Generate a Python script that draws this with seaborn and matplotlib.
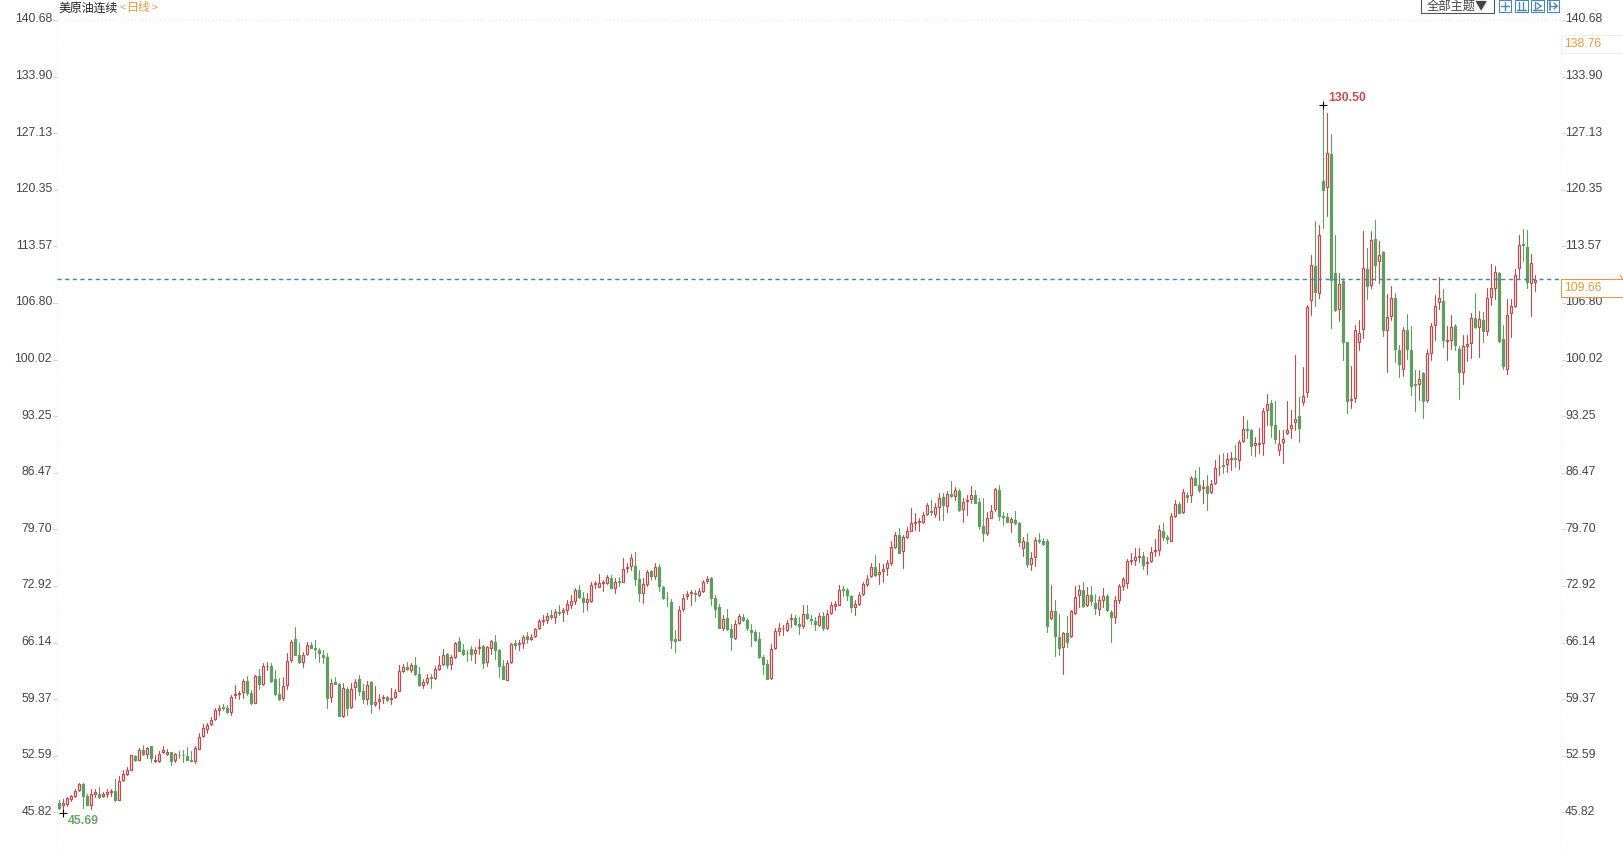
import numpy as np
import pandas as pd
import seaborn as sns
import matplotlib.pyplot as plt
from matplotlib.patches import Rectangle
from matplotlib.lines import Line2D

W, H = 1623, 849

# R = up day (hollow), G = down day (filled)
directions = (
    "GRRRRRGGRR" "GRRRGRRRRG" "RGRGRRRRGR" "GGGGRRRRRR" "RGGRRRRGGR"
    "GRRGGGRRRG" "GRRGGGGGRG" "GRGRRGGRGR" "RRGRRRRGRG" "GRRGRRRGRR"
    "GGGGRRGRRG" "GGRRGRRGRR" "RRRGRGRRRR" "GGRRRRRRGR" "GRRRGGRRGR"
    "GGGGGRRRRG" "RRRGGGRGGR" "RGGGGGGGRR" "RRRRGGRGGG" "RGRRRRGGGR"
    "RRRRGRRRRR" "GRRRRRRRGR" "RGRGRGRRRG" "GGRRRGGGRG" "GRGRRGGGRG"
    "GRGRRRGRGG" "RRGGRRRRRR" "RGRRRRGGRR" "GRGRGGRGRR" "RGRRGRRGGR"
    "RRRGGRRRRR" "GRRRGRGRGG" "RGGRRRRGRG" "RGRRGGRGGG" "RGRRRRGRRG"
    "GRRRGRGRRR" "GGRRRRGGRR"
)

highs = [
    47.23, 47.43, 47.63, 47.87, 48.59, 49.35, 49.31, 47.95, 48.55, 48.63,
    48.83, 48.27, 48.63, 48.55, 49.83, 50.19, 50.91, 51.23, 52.71, 52.71,
    53.51, 53.91, 53.63, 53.79, 52.63, 53.15, 53.75, 53.43, 53.07, 52.95,
    53.11, 53.31, 53.63, 53.15, 53.71, 55.31, 56.35, 56.51, 57.23, 58.35,
    58.63, 58.83, 58.63, 59.83, 61.03, 60.35, 61.75, 62.15, 60.43, 62.23,
    63.03, 63.63, 63.75, 63.63, 62.91, 61.95, 62.03, 64.83, 66.43, 67.95,
    66.03, 64.95, 66.23, 66.23, 66.43, 65.43, 65.23, 64.83, 61.83, 62.03,
    61.31, 61.31, 60.83, 61.35, 61.83, 62.31, 61.23, 61.55, 61.51, 60.91,
    60.03, 59.83, 59.75, 60.71, 60.63, 63.43, 63.55, 63.83, 63.63, 64.35,
    63.21, 61.81, 62.41, 62.33, 63.33, 64.49, 65.41, 64.89, 64.69, 66.21,
    66.77, 66.01, 65.21, 65.69, 65.61, 66.61, 65.81, 65.73, 66.41, 67.01,
    65.41, 64.01, 64.01, 66.13, 66.49, 66.41, 67.01, 67.41, 67.21, 67.93,
    68.93, 69.41, 69.69, 70.01, 70.21, 70.61, 70.33, 71.21, 71.81, 72.61,
    73.01, 72.21, 72.09, 73.41, 73.49, 74.33, 73.61, 74.21, 74.21, 73.81,
    74.01, 76.29, 75.61, 76.69, 76.97, 74.81, 73.81, 74.81, 74.81, 75.61,
    75.49, 72.89, 72.21, 71.41, 67.61, 70.49, 71.93, 72.29, 72.41, 72.41,
    72.61, 73.61, 74.09, 74.01, 71.81, 70.73, 69.41, 70.21, 68.41, 68.89,
    69.61, 69.53, 69.09, 68.33, 67.69, 67.41, 64.61, 64.01, 66.01, 67.93,
    68.49, 68.21, 68.89, 69.61, 69.41, 69.21, 70.6, 70.6, 69.4, 69.2,
    69.72, 69.8, 70.0, 71.0, 71.12, 73.0, 72.92, 72.72, 71.88, 71.2,
    72.2, 73.4, 74.2, 75.72, 76.68, 75.72, 75.6, 76.0, 78.32, 79.4,
    79.8, 79.0, 80.0, 82.2, 81.6, 81.0, 81.8, 82.8, 83.2, 82.8,
    84.0, 84.08, 84.28, 85.48, 84.8, 84.52, 83.4, 83.8, 84.88, 84.4,
    83.4, 83.4, 81.8, 82.6, 84.68, 85.0, 81.8, 81.6, 81.2, 81.88,
    80.6, 78.72, 79.28, 77.0, 78.8, 79.2, 78.6, 78.48, 73.0, 71.2,
    69.52, 67.4, 69.28, 70.08, 72.92, 73.0, 73.36, 72.8, 72.92, 72.0,
    71.68, 72.72, 71.92, 70.0, 71.68, 73.2, 74.0, 76.2, 76.8, 77.4,
    77.4, 77.0, 76.4, 77.6, 78.48, 80.2, 80.4, 79.0, 81.6, 83.2,
    83.0, 84.48, 84.2, 86.08, 86.8, 87.12, 85.6, 86.2, 85.6, 88.0,
    88.58, 88.78, 88.86, 88.98, 89.78, 90.38, 93.26, 92.78, 91.66, 90.78,
    91.78, 94.18, 95.90, 95.18, 95.06, 91.58, 91.58, 95.06, 93.98, 100.58,
    95.58, 99.18, 106.58, 112.58, 116.66, 116.18, 130.50, 129.58, 126.98, 114.98,
    110.38, 109.78, 102.18, 99.26, 104.18, 104.78, 115.38, 113.38, 115.38, 116.78,
    114.18, 112.98, 107.90, 108.78, 107.98, 101.78, 103.93, 105.53, 104.0, 98.73,
    98.81, 98.53, 101.33, 104.45, 107.73, 109.85, 108.41, 104.01, 105.41, 104.25,
    101.65, 102.93, 103.01, 105.61, 107.93, 105.81, 105.73, 108.53, 111.41, 111.25,
    110.53, 104.13, 107.33, 107.33, 110.81, 114.93, 115.61, 115.53, 112.65, 110.13,
]

body_tops = [
    46.87, 46.87, 47.47, 47.71, 48.31, 49.19, 49.15, 47.79, 47.95, 48.19,
    48.03, 48.03, 48.23, 48.31, 48.31, 49.59, 50.35, 50.83, 52.63, 52.51,
    53.27, 53.23, 53.47, 53.71, 52.07, 52.83, 53.27, 53.03, 52.99, 52.75,
    52.71, 52.71, 52.51, 52.11, 53.47, 54.87, 55.87, 56.27, 56.91, 58.03,
    58.31, 58.39, 58.27, 59.59, 59.99, 60.07, 61.59, 61.59, 60.11, 62.11,
    62.11, 63.35, 63.39, 63.35, 61.79, 60.03, 60.91, 63.91, 66.19, 66.51,
    64.63, 64.59, 65.83, 65.79, 65.47, 65.23, 64.63, 64.39, 61.35, 61.47,
    61.15, 60.75, 60.59, 60.59, 61.47, 61.83, 60.31, 61.11, 61.39, 59.03,
    59.43, 59.67, 59.63, 59.47, 60.27, 62.71, 63.19, 63.19, 63.43, 63.43,
    62.33, 61.41, 61.93, 62.01, 62.93, 63.49, 64.69, 64.73, 64.37, 66.05,
    66.33, 65.21, 64.93, 65.41, 65.29, 65.57, 65.69, 65.57, 66.29, 66.17,
    65.21, 63.33, 63.73, 65.93, 66.05, 66.13, 66.81, 66.89, 66.77, 67.81,
    68.73, 68.89, 69.29, 69.41, 69.85, 69.85, 70.01, 70.73, 71.09, 72.41,
    72.41, 71.53, 71.41, 73.01, 73.21, 73.25, 73.41, 73.97, 73.81, 73.41,
    73.53, 74.89, 75.13, 76.29, 75.29, 73.69, 73.13, 74.61, 74.69, 75.21,
    75.17, 72.77, 71.53, 70.97, 66.53, 70.09, 71.49, 72.01, 72.17, 72.05,
    72.29, 73.37, 73.69, 73.89, 71.53, 70.37, 69.01, 69.05, 67.81, 68.41,
    69.33, 69.21, 68.81, 67.61, 67.37, 66.53, 64.41, 63.57, 65.41, 67.53,
    67.85, 67.93, 68.53, 69.09, 69.09, 68.41, 69.6, 69.6, 69.0, 68.76,
    69.28, 69.28, 69.6, 70.6, 70.72, 72.48, 72.6, 72.48, 71.68, 70.72,
    71.88, 73.12, 73.8, 75.24, 75.24, 74.64, 75.0, 75.64, 77.52, 79.0,
    79.0, 78.72, 79.44, 80.4, 80.6, 80.64, 81.36, 82.6, 81.88, 82.4,
    83.48, 83.6, 83.92, 83.92, 84.4, 84.28, 83.0, 83.2, 83.8, 83.8,
    83.0, 80.08, 81.0, 81.88, 84.56, 84.4, 81.28, 81.12, 80.88, 80.76,
    80.48, 78.28, 78.16, 76.32, 78.4, 78.36, 78.24, 78.28, 69.96, 69.88,
    66.84, 67.28, 67.32, 69.92, 71.64, 72.48, 72.4, 71.8, 71.88, 70.92,
    71.28, 71.68, 71.68, 69.8, 71.2, 72.88, 73.76, 75.88, 76.04, 76.4,
    76.48, 76.56, 75.8, 76.96, 77.2, 79.56, 79.48, 78.72, 81.28, 82.68,
    82.68, 84.12, 83.8, 85.84, 85.84, 85.0, 84.72, 84.88, 85.12, 87.0,
    87.18, 87.38, 88.06, 88.18, 88.18, 90.10, 91.74, 91.70, 91.58, 89.98,
    90.06, 93.82, 94.70, 94.78, 92.14, 89.86, 90.46, 91.54, 92.14, 92.86,
    93.26, 95.70, 106.26, 111.30, 111.26, 114.94, 121.34, 124.74, 124.66, 110.38,
    109.06, 109.38, 102.10, 95.30, 103.50, 103.18, 110.94, 110.86, 114.34, 114.46,
    112.54, 112.90, 105.10, 107.38, 107.38, 101.18, 103.53, 103.53, 101.13, 97.13,
    97.73, 98.41, 100.81, 104.01, 106.41, 107.45, 107.01, 102.41, 103.93, 104.01,
    101.25, 101.69, 101.93, 105.05, 105.05, 104.93, 104.81, 107.45, 108.53, 110.45,
    110.41, 102.53, 105.41, 106.45, 110.09, 113.77, 113.81, 113.53, 111.53, 109.53,
]

body_bottoms = [
    46.35, 46.71, 46.83, 47.39, 47.75, 48.43, 47.71, 46.67, 46.67, 47.99,
    47.59, 47.71, 47.99, 48.19, 47.23, 47.27, 49.71, 50.39, 50.87, 52.03,
    52.11, 52.75, 52.75, 52.27, 51.91, 51.91, 52.99, 52.79, 51.91, 52.03,
    52.63, 52.63, 52.11, 51.95, 51.91, 53.43, 54.91, 55.83, 56.39, 57.03,
    58.07, 58.31, 57.83, 57.83, 59.91, 59.95, 60.23, 60.11, 58.91, 58.91,
    61.19, 61.19, 63.31, 61.51, 60.03, 59.39, 59.47, 61.03, 63.99, 64.67,
    63.75, 63.83, 64.71, 65.51, 65.31, 64.91, 64.43, 59.51, 59.63, 61.23,
    57.35, 57.35, 58.31, 58.43, 60.83, 60.31, 59.39, 59.39, 58.75, 58.75,
    59.15, 59.51, 59.31, 59.39, 59.63, 60.35, 62.71, 62.99, 62.91, 62.43,
    61.01, 61.01, 61.45, 61.93, 61.89, 62.93, 63.53, 63.41, 63.57, 64.37,
    65.17, 64.73, 64.85, 64.73, 64.89, 65.45, 63.69, 63.77, 65.53, 65.29,
    63.33, 61.77, 61.69, 63.81, 65.89, 66.01, 66.13, 66.57, 66.61, 66.93,
    67.89, 68.77, 68.89, 69.21, 69.21, 69.69, 69.81, 70.01, 70.69, 71.09,
    71.57, 70.97, 71.01, 71.13, 73.09, 72.81, 73.29, 73.21, 72.69, 72.69,
    73.37, 73.41, 75.05, 75.33, 73.73, 72.09, 72.05, 73.13, 74.13, 74.13,
    72.93, 71.49, 71.45, 66.41, 66.37, 66.45, 70.13, 71.69, 72.05, 71.93,
    71.81, 72.33, 73.45, 71.49, 70.13, 67.93, 67.93, 67.77, 66.77, 66.73,
    68.49, 68.81, 67.93, 67.45, 66.49, 64.41, 63.57, 61.77, 61.85, 65.49,
    67.53, 67.85, 67.61, 68.97, 68.41, 68.17, 68.08, 69.08, 68.8, 68.32,
    68.24, 67.88, 67.88, 69.64, 70.56, 70.68, 72.48, 71.88, 70.4, 70.4,
    70.72, 71.92, 73.12, 74.12, 74.24, 74.32, 74.72, 75.04, 75.72, 77.52,
    76.88, 77.04, 78.76, 79.52, 80.4, 80.52, 80.6, 81.48, 81.72, 81.52,
    82.4, 82.6, 82.48, 83.72, 83.72, 82.04, 82.12, 83.08, 83.28, 82.88,
    80.12, 79.28, 79.2, 81.08, 82.08, 81.28, 81.2, 80.6, 80.6, 80.48,
    78.2, 77.48, 75.6, 75.6, 76.4, 78.28, 77.92, 68.12, 69.08, 66.92,
    65.52, 65.6, 66.16, 66.88, 69.68, 71.84, 70.48, 70.6, 71.08, 70.24,
    70.2, 71.28, 70.0, 69.2, 69.16, 71.2, 72.92, 73.32, 75.96, 76.0,
    76.4, 75.44, 75.72, 75.88, 77.04, 77.2, 78.8, 78.48, 78.32, 81.32,
    81.68, 81.72, 83.6, 83.76, 85.04, 84.4, 84.64, 84.08, 84.12, 85.2,
    87.10, 87.30, 87.50, 88.10, 88.10, 87.98, 90.26, 91.62, 89.70, 89.82,
    89.90, 89.98, 93.94, 92.14, 90.54, 89.18, 90.10, 91.22, 91.78, 92.50,
    91.86, 94.98, 96.10, 107.18, 108.10, 107.98, 120.34, 120.70, 109.58, 105.90,
    106.06, 102.10, 95.10, 95.22, 95.38, 102.18, 103.66, 108.86, 108.90, 111.30,
    111.78, 103.54, 103.54, 105.26, 101.26, 99.50, 98.93, 101.33, 96.85, 97.01,
    97.13, 95.05, 95.13, 100.81, 104.21, 106.97, 102.33, 102.25, 102.41, 101.73,
    98.53, 98.53, 101.69, 102.01, 103.93, 103.93, 103.45, 103.41, 107.53, 108.61,
    102.25, 99.25, 98.85, 105.65, 106.49, 110.93, 113.73, 109.33, 109.21, 109.29,
]

lows = [
    46.23, 45.69, 46.51, 47.15, 47.63, 48.31, 46.31, 46.63, 46.15, 47.63,
    47.47, 47.63, 47.63, 47.71, 47.15, 47.23, 49.55, 50.31, 50.83, 51.95,
    52.03, 52.67, 52.31, 51.83, 51.83, 51.83, 52.91, 52.67, 51.47, 51.83,
    52.27, 51.83, 52.03, 51.91, 51.71, 53.35, 54.83, 55.31, 56.31, 56.91,
    57.43, 58.11, 57.75, 57.47, 59.55, 59.39, 59.55, 59.83, 58.75, 58.87,
    60.63, 61.03, 62.83, 61.43, 59.83, 59.31, 59.23, 60.59, 63.83, 64.59,
    63.71, 63.23, 64.63, 65.43, 64.23, 63.83, 63.71, 58.27, 59.03, 61.15,
    57.31, 57.27, 57.43, 58.35, 59.43, 59.83, 58.91, 58.75, 57.71, 58.51,
    58.23, 58.95, 59.15, 58.83, 59.55, 60.31, 62.63, 62.83, 62.63, 62.23,
    60.89, 60.69, 61.21, 60.69, 61.81, 62.81, 63.45, 63.09, 62.93, 64.25,
    65.09, 64.61, 63.93, 64.01, 63.69, 64.81, 63.09, 63.29, 64.81, 64.21,
    62.01, 61.73, 61.61, 63.69, 65.41, 65.21, 65.53, 66.13, 66.41, 66.81,
    67.81, 68.21, 68.49, 68.93, 68.49, 69.41, 68.73, 69.61, 70.33, 70.81,
    71.53, 69.81, 70.09, 71.01, 72.61, 72.73, 72.29, 73.09, 72.61, 72.09,
    72.93, 73.33, 74.53, 74.81, 73.01, 71.13, 70.89, 72.93, 73.61, 73.69,
    72.33, 71.41, 70.49, 65.53, 65.01, 66.41, 69.93, 71.41, 70.61, 71.13,
    71.69, 72.25, 73.21, 70.61, 69.21, 67.85, 67.61, 67.69, 65.21, 66.61,
    68.33, 68.73, 67.69, 65.69, 66.33, 64.33, 62.41, 61.73, 61.77, 65.41,
    67.01, 67.09, 67.53, 68.01, 68.29, 67.21, 67.88, 69.0, 68.32, 67.68,
    68.12, 67.6, 67.8, 69.52, 70.0, 70.6, 71.68, 71.28, 69.8, 69.4,
    70.6, 71.8, 72.88, 74.0, 74.08, 73.12, 73.4, 74.2, 75.4, 77.4,
    76.8, 75.08, 78.68, 79.44, 79.6, 79.52, 80.48, 81.4, 81.4, 81.12,
    80.8, 80.8, 81.8, 83.52, 83.2, 81.92, 80.56, 81.4, 82.88, 82.8,
    79.72, 78.28, 79.0, 81.0, 81.88, 80.8, 80.2, 80.52, 79.4, 80.32,
    77.68, 76.48, 75.2, 74.8, 75.28, 78.08, 77.84, 67.4, 69.0, 64.52,
    64.68, 62.4, 65.6, 66.8, 69.6, 70.4, 70.4, 70.48, 70.6, 69.6,
    69.4, 70.4, 69.88, 66.2, 68.52, 70.88, 72.4, 72.72, 75.6, 75.4,
    75.8, 75.0, 74.4, 75.76, 76.52, 76.68, 78.4, 78.0, 78.28, 81.2,
    81.6, 81.64, 83.0, 83.0, 84.96, 84.2, 82.88, 82.0, 84.0, 85.08,
    86.18, 86.46, 86.58, 86.78, 87.18, 86.86, 90.18, 90.58, 88.58, 88.46,
    88.78, 88.58, 92.18, 90.78, 89.98, 88.58, 87.58, 91.10, 90.58, 91.58,
    90.18, 94.58, 95.50, 105.38, 106.46, 107.38, 115.78, 117.18, 103.78, 105.78,
    104.58, 99.98, 93.66, 94.18, 94.98, 101.18, 102.58, 107.26, 108.58, 109.58,
    109.18, 102.90, 98.58, 104.78, 99.78, 97.90, 98.05, 100.13, 95.73, 93.85,
    95.21, 93.01, 94.93, 100.01, 102.33, 106.13, 101.53, 100.01, 101.33, 101.13,
    95.33, 97.05, 99.85, 100.25, 103.81, 100.33, 102.13, 102.93, 106.53, 107.25,
    102.13, 98.85, 98.25, 102.73, 106.33, 109.73, 111.85, 108.53, 105.25, 108.25,
]

tick_values = [140.68, 133.90, 127.13, 120.35, 113.57, 106.80, 100.02,
               93.25, 86.47, 79.70, 72.92, 66.14, 59.37, 52.59, 45.82]
tick_labels = ["%.2f" % v for v in tick_values]
last_price = 109.66
right_price = 138.76
max_price = 130.50
min_price = 45.69

RED = "#b9504f"
GREEN = "#5f9e60"
ORANGE = "#e39a45"
TEXT = "#444444"
ICON = "#4a86ad"
FONT = ["Liberation Sans", "DejaVu Sans"]

sns.set_style("white")
plt.rcParams["font.family"] = ["Noto Sans CJK SC", "DejaVu Sans"]

df = pd.DataFrame({"high": highs, "top": body_tops, "bottom": body_bottoms, "low": lows,
                   "direction": list(directions)})
df["idx"] = df.index
wicks = df.melt(id_vars=["idx", "direction"], value_vars=["high", "low"], value_name="price")

fig = plt.figure(figsize=(W / 100, H / 100), dpi=100)
ax = fig.add_axes([57 / W, 0, (1562 - 57) / W, 1])

sns.lineplot(data=wicks, x="idx", y="price", hue="direction", units="idx", estimator=None,
             palette={"R": RED, "G": GREEN}, linewidth=0.8, legend=False, ax=ax, zorder=2)

up = df[df.direction == "R"]
down = df[df.direction == "G"]
ax.bar(up.idx, up.top - up.bottom, bottom=up.bottom, width=0.55, facecolor="white",
       edgecolor=RED, linewidth=0.9, zorder=3)
ax.bar(down.idx, down.top - down.bottom, bottom=down.bottom, width=0.55, facecolor=GREEN,
       edgecolor=GREEN, linewidth=0.9, zorder=3)

ax.set_xlim(-0.575, 375.675)
ax.set_ylim(41.42, 143.07)
ax.set_xlabel("")
ax.set_ylabel("")
ax.set_xticks([])
ax.set_yticks([])
sns.despine(ax=ax, top=True, right=True, left=True, bottom=True)

# frame lines, very faint in the original
ax.axvline(-0.575, color="#eeeeee", lw=1.2, ls=":", zorder=1)
ax.axvline(375.675, color="#eeeeee", lw=1.2, ls=":", zorder=1)
ax.plot([0, 1], [140.68, 140.68], transform=ax.get_yaxis_transform(), color="#eeeeee",
        lw=1, ls=":", zorder=1)

ytrans = ax.get_yaxis_transform()
for v, lab in zip(tick_values, tick_labels):
    ax.annotate(lab, xy=(0, v), xycoords=ytrans, xytext=(-5, 0.5), textcoords="offset pixels",
                ha="right", va="center", fontsize=8.8, color=TEXT, family=FONT, annotation_clip=False)
    ax.annotate(lab, xy=(1, v), xycoords=ytrans, xytext=(3, 0.5), textcoords="offset pixels",
                ha="left", va="center", fontsize=8.8, color=TEXT, family=FONT, annotation_clip=False)

# last price line
ax.axhline(last_price, color="#3f86a8", lw=1, dashes=(3, 2.5), zorder=4)


def px_line(x0, y0, x1, y1, color, lw=0.8):
    fig.add_artist(Line2D([x0 / W, x1 / W], [1 - y0 / H, 1 - y1 / H], color=color, lw=lw))


def px_rect(x0, y0, x1, y1, edge, face="none", lw=0.8):
    fig.add_artist(Rectangle((x0 / W, 1 - y1 / H), (x1 - x0) / W, (y1 - y0) / H,
                             transform=fig.transFigure, edgecolor=edge, facecolor=face, lw=lw))


for v in tick_values:
    y = (143.07 - v) * 8.352
    px_line(53, y, 57, y, "#d5d5d5")
    px_line(1562, y, 1565, y, "#d5d5d5")

# price boxes on the right
px_rect(1561, 35, 1630, 53, "#eeeeee", "white")
fig.text(1564 / W, 1 - 44 / H, "%.2f" % right_price, color=ORANGE, fontsize=8.8, family=FONT,
         ha="left", va="center")
px_rect(1561, 279, 1630, 297, ORANGE, "white")
fig.text(1564 / W, 1 - 288 / H, "%.2f" % last_price, color=ORANGE, fontsize=8.8, family=FONT,
         ha="left", va="center")
px_line(1620, 275, 1623, 279, ORANGE)

# extreme markers
ax.plot([316], [max_price], marker="+", color="black", ms=5.5, mew=0.8, zorder=5, clip_on=False)
ax.plot([1], [min_price], marker="+", color="black", ms=5.5, mew=0.8, zorder=5, clip_on=False)
ax.annotate("%.2f" % max_price, xy=(316, max_price), xytext=(5, 7), textcoords="offset pixels",
            color="#c0504d", fontsize=8.8, fontweight="bold", family=FONT, va="center", ha="left")
ax.annotate("%.2f" % min_price, xy=(1, min_price), xytext=(5, -8), textcoords="offset pixels",
            color="#6aa86a", fontsize=8.8, fontweight="bold", family=FONT, va="center", ha="left")

# header
fig.text(58 / W, 1 - 8 / H, "美原油连续", fontsize=8.6, color="#222222", ha="left", va="center")
fig.text(120 / W, 1 - 8 / H, "<", fontsize=8, color=ORANGE, ha="left", va="center")
fig.text(127 / W, 1 - 8 / H, "日线", fontsize=8.6, color=ORANGE, ha="left", va="center")
fig.text(152 / W, 1 - 8 / H, ">", fontsize=8, color=ORANGE, ha="left", va="center")

# toolbar
px_rect(1421, -2, 1494, 13, "#555555", "white")
fig.text(1457.5 / W, 1 - 6.5 / H, "全部主题▼", fontsize=8.8, color="#444444", ha="center", va="center")
boxes = [(1499, 1511), (1515, 1528), (1531, 1544), (1547, 1559)]
for x0, x1 in boxes:
    px_rect(x0, 0, x1, 12, ICON, "white")
x0, x1 = boxes[0]
px_line((x0 + x1) / 2, 2, (x0 + x1) / 2, 10, ICON, 1)
px_line(x0 + 2, 6, x1 - 2, 6, ICON, 1)
x0, x1 = boxes[1]
px_line(x0 + 4, 2, x0 + 4, 10, ICON, 1)
px_line(x0 + 8, 2, x0 + 8, 10, ICON, 1)
px_line(x0 + 2, 10, x1 - 2, 10, ICON, 1)
x0, x1 = boxes[2]
px_line(x0 + 4, 2, x0 + 4, 10, ICON, 1)
px_line(x0 + 2, 10, x1 - 2, 10, ICON, 1)
px_line(x0 + 6, 3, x0 + 10, 6, ICON, 1)
px_line(x0 + 6, 9, x0 + 10, 6, ICON, 1)
x0, x1 = boxes[3]
px_line(x0 + 3, 2, x0 + 3, 10, ICON, 1.2)
px_line(x0 + 3, 6, x1 - 2, 6, ICON, 1)
px_line(x1 - 5, 3, x1 - 2, 6, ICON, 1)
px_line(x1 - 5, 9, x1 - 2, 6, ICON, 1)

fig.savefig("out.png", dpi=100, facecolor="white")
